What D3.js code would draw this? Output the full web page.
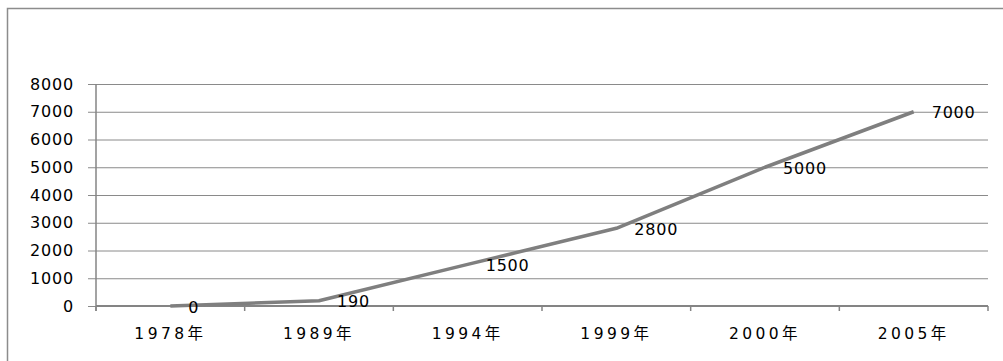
<!DOCTYPE html>
<html>
<head>
<meta charset="utf-8">
<script src="https://cdn.jsdelivr.net/npm/d3@7/dist/d3.min.js"></script>
<style>
  html, body { margin: 0; padding: 0; background: #fff; }
  svg { display: block; }
</style>
</head>
<body>
<svg id="chart" width="1003" height="361"></svg>
<script>
// Yearly values plotted as a single line
const years = ["1978年", "1989年", "1994年", "1999年", "2000年", "2005年"];
const values = [0, 190, 1500, 2800, 5000, 7000];
const yTicks = [0, 1000, 2000, 3000, 4000, 5000, 6000, 7000, 8000];

const svg = d3.select("#chart");
const W = 1003, H = 361;
const plot = { left: 96, right: 988, top: 84, bottom: 306 };

const gray = "#848484";
const digitFont = "'DejaVu Sans', Verdana, sans-serif";
const catFont = "'DejaVu Sans', 'Noto Sans CJK JP', 'Noto Sans CJK SC', sans-serif";

// Chart frame (only left and top edges fall inside the view)
svg.append("rect")
  .attr("x", 7.5).attr("y", 8.5)
  .attr("width", W).attr("height", H)
  .attr("fill", "none")
  .attr("stroke", "#8c8c8c")
  .attr("stroke-width", 1.5);

const x = d3.scaleBand().domain(years).range([plot.left, plot.right]).padding(0);
const y = d3.scaleLinear().domain([0, 8000]).range([plot.bottom, plot.top]);

// Value axis with horizontal gridlines
const yAxis = svg.append("g")
  .attr("transform", `translate(${plot.left},0)`)
  .call(d3.axisLeft(y).tickValues(yTicks).tickFormat(d3.format("d"))
    .tickSizeInner(-(plot.right - plot.left)).tickSizeOuter(0).tickPadding(22));
yAxis.select(".domain").remove();
yAxis.selectAll(".tick line")
  .attr("x1", -8)
  .attr("stroke", "#8a8a8a")
  .attr("stroke-width", 1);
yAxis.selectAll(".tick text")
  .attr("fill", "#000")
  .style("font-family", digitFont)
  .style("font-size", "16px")
  .style("letter-spacing", "0.8px");

// Vertical axis line
svg.append("line")
  .attr("x1", plot.left).attr("x2", plot.left)
  .attr("y1", plot.top).attr("y2", plot.bottom + 5)
  .attr("stroke", gray).attr("stroke-width", 1.5);

// Category axis
const xAxis = svg.append("g")
  .attr("transform", `translate(0,${plot.bottom})`)
  .call(d3.axisBottom(x).tickSize(0).tickPadding(22));
xAxis.select(".domain").remove();
xAxis.selectAll(".tick text")
  .attr("fill", "#000")
  .style("font-family", catFont)
  .style("font-size", "15.5px")
  .style("letter-spacing", "3.4px");

svg.append("line")
  .attr("x1", plot.left).attr("x2", plot.right)
  .attr("y1", plot.bottom).attr("y2", plot.bottom)
  .attr("stroke", gray).attr("stroke-width", 2);

// Tick marks at category boundaries
const boundaries = years.map(d => x(d)).concat([x(years[years.length - 1]) + x.bandwidth()]);
svg.append("g").selectAll("line")
  .data(boundaries)
  .join("line")
  .attr("x1", d => d).attr("x2", d => d)
  .attr("y1", plot.bottom).attr("y2", plot.bottom + 5)
  .attr("stroke", gray).attr("stroke-width", 1.5);

// Series line
const cx = d => x(d) + x.bandwidth() / 2;
const line = d3.line()
  .x((d, i) => cx(years[i]))
  .y(d => y(d));
svg.append("path")
  .datum(values)
  .attr("d", line)
  .attr("fill", "none")
  .attr("stroke", "#7f7f7f")
  .attr("stroke-width", 3.5)
  .attr("stroke-linejoin", "round");

// Value labels to the right of each point
svg.append("g").selectAll("text")
  .data(values)
  .join("text")
  .attr("x", (d, i) => cx(years[i]) + 18)
  .attr("y", d => y(d) + 2)
  .attr("dominant-baseline", "middle")
  .attr("fill", "#000")
  .style("font-family", digitFont)
  .style("font-size", "16px")
  .style("letter-spacing", "0.8px")
  .text(d => d);
</script>
</body>
</html>
